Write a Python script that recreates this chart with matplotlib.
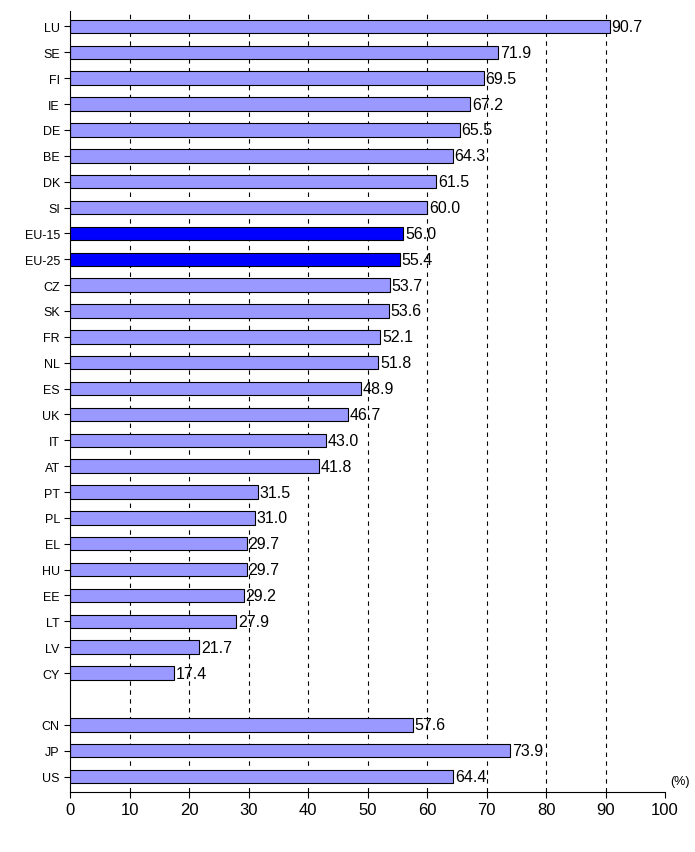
import matplotlib
matplotlib.use("Agg")
import matplotlib.pyplot as plt
plt.rcParams['font.family'] = ['Liberation Sans', 'DejaVu Sans']

labels = ["LU","SE","FI","IE","DE","BE","DK","SI","EU-15","EU-25","CZ","SK","FR","NL","ES","UK","IT","AT","PT","PL","EL","HU","EE","LT","LV","CY","CN","JP","US"]
values = [90.7,71.9,69.5,67.2,65.5,64.3,61.5,60.0,56.0,55.4,53.7,53.6,52.1,51.8,48.9,46.7,43.0,41.8,31.5,31.0,29.7,29.7,29.2,27.9,21.7,17.4,57.6,73.9,64.4]
highlight = ["EU-15","EU-25"]

pos = list(range(26)) + [27, 28, 29]
colors = ["#0000FF" if l in highlight else "#9999FF" for l in labels]

fig = plt.figure(figsize=(6.95, 8.53), dpi=100)
ax = fig.add_axes([0.101, 0.0703, 0.856, 0.9157])
ax.set_axisbelow(True)
for x in range(10, 100, 10):
    ax.axvline(x, color="black", linestyle=(0, (4, 4)), linewidth=0.8, zorder=0)
ax.barh(pos, values, height=0.52, color=colors, edgecolor="black", linewidth=0.8, zorder=2)
for p, v in zip(pos, values):
    ax.text(v + 0.3, p, f"{v:.1f}", va="center", ha="left", fontsize=11.5, zorder=3)
ax.set_ylim(29.6, -0.6)
ax.set_xlim(0, 100)
ax.set_yticks(pos)
ax.set_yticklabels(labels, fontsize=9)
ax.set_xticks(range(0, 101, 10))
ax.tick_params(axis="x", labelsize=12, direction="out", length=4)
ax.tick_params(axis="y", length=4)
for s in ["top", "right"]:
    ax.spines[s].set_visible(False)
fig.text(0.965, 0.083, "(%)", fontsize=9, ha="left", va="center")
fig.savefig("out.png", dpi=100)
